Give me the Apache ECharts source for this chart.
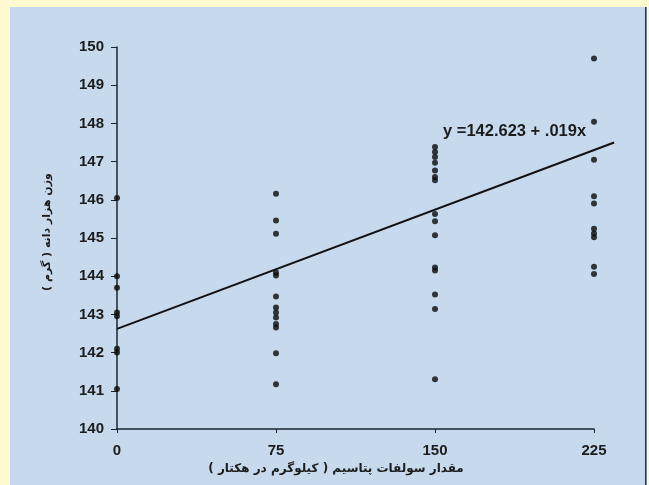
<!DOCTYPE html>
<html><head><meta charset="utf-8">
<script src="https://cdn.jsdelivr.net/npm/echarts@6/dist/echarts.min.js"></script>
<style>html,body{margin:0;padding:0;background:#fffad0;}#c{width:649px;height:485px;}</style>
</head><body><div id="c"></div>
<script>
// Data
const xLevels = [0, 75, 150, 225];
const weightsAt0   = [146.05, 144.0, 143.7, 143.05, 142.95, 142.1, 142.0, 141.05];
const weightsAt75  = [146.16, 145.46, 145.11, 144.1, 144.02, 143.47, 143.18, 143.05, 142.92, 142.75, 142.66, 141.98, 141.17];
const weightsAt150 = [147.38, 147.25, 147.12, 146.97, 146.77, 146.6, 146.51, 145.63, 145.44, 145.07, 144.23, 144.15, 143.52, 143.14, 141.3];
const weightsAt225 = [149.7, 148.04, 147.05, 146.09, 145.9, 145.24, 145.12, 145.02, 144.25, 144.06];
const fitLine = [[0, 142.62], [234.5, 147.5]];
const equationText = 'y =142.623 + .019x';
const xTitle = 'مقدار سولفات پتاسیم ( کیلوگرم در هکتار )';
const yTitle = 'وزن هزار دانه ( گرم )';

const groups = [weightsAt0, weightsAt75, weightsAt150, weightsAt225];
const points = [];
groups.forEach((g, i) => g.forEach(v => points.push([xLevels[i], v])));

// plot geometry
const gLeft = 117, gTop = 47, gRight = 55, gBottom = 56;
const plotW = 649 - gLeft - gRight;           // width for 0..225
const fitMax = fitLine[1][0];
const extW = plotW * fitMax / 225;             // width for 0..fitMax at same scale

const chart = echarts.init(document.getElementById('c'));
const labelFont = {color: '#1c1c1c', fontFamily: 'Liberation Sans, Arial', fontWeight: 'bold', fontSize: 15};
chart.setOption({
  animation: false,
  backgroundColor: '#fffad0',
  graphic: [
    {type: 'rect', z: -10, shape: {x: 10, y: 7, width: 637, height: 478}, style: {fill: '#c7d9ec'}},
    {type: 'rect', z: -9, shape: {x: 645, y: 7, width: 1.5, height: 478}, style: {fill: '#2a3440'}},
    {type: 'text', x: 443, y: 123, style: {text: equationText, fill: '#1c1c1c', font: 'bold 16.5px "Liberation Sans", Arial'}},
    {type: 'text', x: 336, y: 469, style: {text: xTitle, fill: '#1c1c1c', font: 'bold 12px "DejaVu Sans"', align: 'center', verticalAlign: 'middle'}},
    {type: 'text', rotation: Math.PI / 2, x: 47, y: 232, style: {text: yTitle, fill: '#1c1c1c', font: 'bold 11px "DejaVu Sans"', align: 'center', verticalAlign: 'middle'}}
  ],
  grid: [
    {left: gLeft, right: gRight, top: gTop, bottom: gBottom},
    {left: gLeft, width: extW, top: gTop, bottom: gBottom}
  ],
  xAxis: [{
    type: 'value', min: 0, max: 225, interval: 75, gridIndex: 0,
    axisLine: {lineStyle: {color: '#1a2430', width: 1.5}},
    axisTick: {show: true, length: 4, lineStyle: {color: '#1a2430'}},
    splitLine: {show: false},
    axisLabel: Object.assign({margin: 14}, labelFont)
  }, {
    type: 'value', min: 0, max: fitMax, gridIndex: 1, show: false
  }],
  yAxis: [{
    type: 'value', min: 140, max: 150, interval: 1, gridIndex: 0,
    axisLine: {show: true, lineStyle: {color: '#1a2430', width: 1.5}},
    axisTick: {show: true, length: 6, lineStyle: {color: '#1a2430'}},
    splitLine: {show: false},
    axisLabel: Object.assign({margin: 13}, labelFont)
  }, {
    type: 'value', min: 140, max: 150, gridIndex: 1, show: false
  }],
  series: [
    {type: 'scatter', data: points, symbolSize: 6, itemStyle: {color: '#0a0a0a'}, clip: false, z: 3},
    {type: 'line', xAxisIndex: 1, yAxisIndex: 1, data: fitLine, symbol: 'none', clip: false, lineStyle: {color: '#111', width: 2}, z: 2}
  ]
});
</script></body></html>
